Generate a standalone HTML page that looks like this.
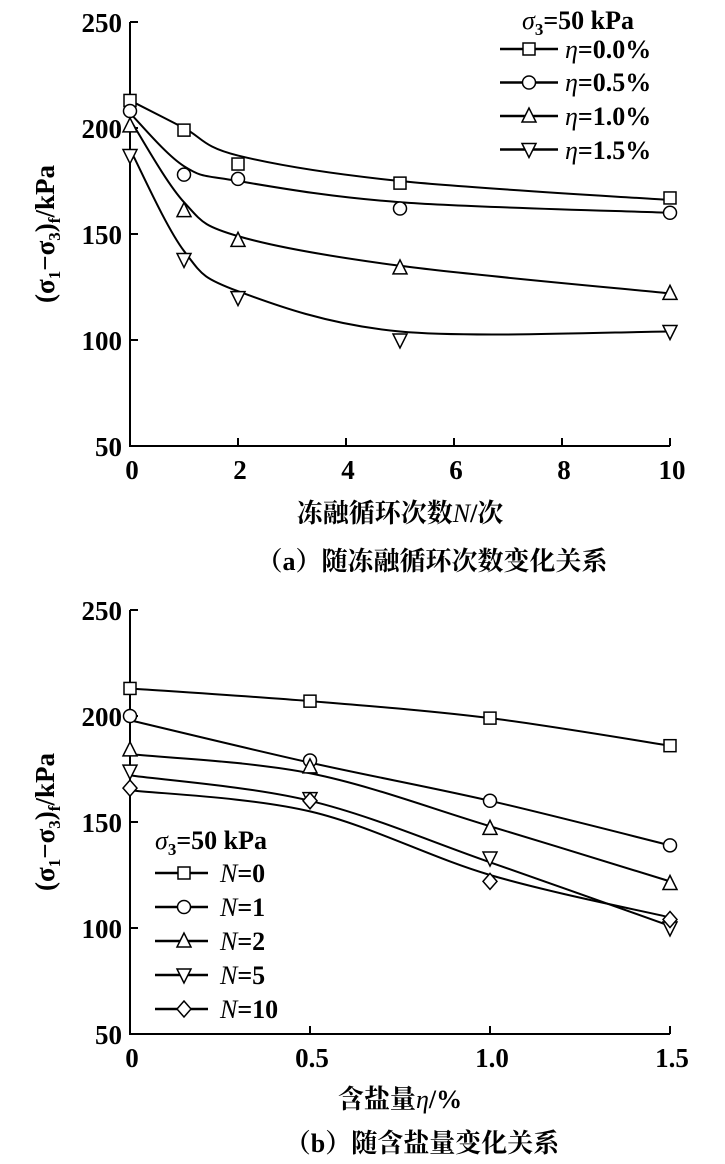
<!DOCTYPE html>
<html><head><meta charset="utf-8"><style>
body{margin:0;background:#fff}
svg{display:block}
text{font-family:"Liberation Serif","Noto Serif CJK SC",serif;fill:#000}
.t{font-size:27px;font-weight:bold}
.l{font-size:26px;font-weight:bold}
.cj{font-family:"Liberation Serif","Noto Serif CJK SC",serif;font-size:26px;font-weight:bold}
</style></head><body>
<svg id="s" width="725" height="1164" viewBox="0 0 725 1164" xmlns="http://www.w3.org/2000/svg">
<g stroke="#000" stroke-width="2" fill="none">
<path d="M130,22V446H670"/>
<path d="M130,22h8M130,128h8M130,234h8M130,340h8M238,446v-8M346,446v-8M454,446v-8M562,446v-8M670,446v-8"/>
<path d="M130,610V1034H670"/>
<path d="M130,610h8M130,716h8M130,822h8M130,928h8M310,1034v-8M490,1034v-8M670,1034v-8"/>
</g>
<g class="t" text-anchor="end">
<text x="122" y="32">250</text><text x="122" y="138">200</text><text x="122" y="244">150</text><text x="122" y="350">100</text><text x="122" y="456">50</text>
<text x="122" y="620">250</text><text x="122" y="726">200</text><text x="122" y="832">150</text><text x="122" y="938">100</text><text x="122" y="1044">50</text>
</g>
<g class="t" text-anchor="middle">
<text x="132" y="479">0</text><text x="240" y="479">2</text><text x="348" y="479">4</text><text x="456" y="479">6</text><text x="564" y="479">8</text><text x="672" y="479">10</text>
<text x="132" y="1067">0</text><text x="312" y="1067">0.5</text><text x="492" y="1067">1.0</text><text x="672" y="1067">1.5</text>
</g>
<text class="cj" x="400" y="522" text-anchor="middle">冻融循环次数<tspan font-style="italic" font-weight="normal">N</tspan>/次</text>
<text class="cj" x="432" y="570" text-anchor="middle">（a）随冻融循环次数变化关系</text>
<text class="cj" x="400" y="1108" text-anchor="middle">含盐量<tspan font-style="italic" font-weight="normal">η</tspan>/%</text>
<text class="cj" x="422" y="1152" text-anchor="middle">（b）随含盐量变化关系</text>
<text class="t" transform="translate(54,234) rotate(-90)" text-anchor="middle">(σ<tspan font-size="17" dy="6">1</tspan><tspan dy="-6">−σ</tspan><tspan font-size="17" dy="6">3</tspan><tspan dy="-6">)</tspan><tspan font-size="17" dy="6">f</tspan><tspan dy="-6">/kPa</tspan></text>
<text class="t" transform="translate(54,822) rotate(-90)" text-anchor="middle">(σ<tspan font-size="17" dy="6">1</tspan><tspan dy="-6">−σ</tspan><tspan font-size="17" dy="6">3</tspan><tspan dy="-6">)</tspan><tspan font-size="17" dy="6">f</tspan><tspan dy="-6">/kPa</tspan></text>
<text class="l" x="522" y="29"><tspan font-style="italic" font-weight="normal">σ</tspan><tspan font-size="17" dy="6">3</tspan><tspan dy="-6">=50 kPa</tspan></text>
<g class="l"><text x="565" y="58"><tspan font-style="italic" font-weight="normal">η</tspan>=0.0%</text>
<text x="565" y="91"><tspan font-style="italic" font-weight="normal">η</tspan>=0.5%</text>
<text x="565" y="125"><tspan font-style="italic" font-weight="normal">η</tspan>=1.0%</text>
<text x="565" y="159"><tspan font-style="italic" font-weight="normal">η</tspan>=1.5%</text></g>
<text class="l" x="155" y="849"><tspan font-style="italic" font-weight="normal">σ</tspan><tspan font-size="17" dy="6">3</tspan><tspan dy="-6">=50 kPa</tspan></text>
<g class="l"><text x="220" y="882"><tspan font-style="italic" font-weight="normal">N</tspan>=0</text>
<text x="220" y="916"><tspan font-style="italic" font-weight="normal">N</tspan>=1</text>
<text x="220" y="950"><tspan font-style="italic" font-weight="normal">N</tspan>=2</text>
<text x="220" y="984"><tspan font-style="italic" font-weight="normal">N</tspan>=5</text>
<text x="220" y="1018"><tspan font-style="italic" font-weight="normal">N</tspan>=10</text></g>
<g id="g"></g>
</svg>
<script>
var g=document.getElementById('g'),NS='http://www.w3.org/2000/svg';
function el(t,a){var e=document.createElementNS(NS,t);for(var k in a)e.setAttribute(k,a[k]);g.appendChild(e);return e;}
function cr(p){var d='M'+p[0][0]+','+p[0][1];for(var i=0;i<p.length-1;i++){var a=p[i-1]||p[i],b=p[i],c=p[i+1],e=p[i+2]||c;
d+='C'+(b[0]+(c[0]-a[0])/6)+','+(b[1]+(c[1]-a[1])/6)+' '+(c[0]-(e[0]-b[0])/6)+','+(c[1]-(e[1]-b[1])/6)+' '+c[0]+','+c[1];}return d;}
function mk(t,x,y){var s={fill:'#fff',stroke:'#000','stroke-width':1.5};
if(t==0){s.x=x-6;s.y=y-6;s.width=12;s.height=12;el('rect',s);}
else if(t==1){s.cx=x;s.cy=y;s.r=6.5;el('circle',s);}
else if(t==2){s.points=(x)+','+(y-8)+' '+(x-7)+','+(y+6)+' '+(x+7)+','+(y+6);el('polygon',s);}
else if(t==3){s.points=(x)+','+(y+8)+' '+(x-7)+','+(y-6)+' '+(x+7)+','+(y-6);el('polygon',s);}
else{s.points=x+','+(y-8)+' '+(x+7)+','+y+' '+x+','+(y+8)+' '+(x-7)+','+y;el('polygon',s);}}
var Ya=function(v){return 446-(v-50)*2.12},Yb=function(v){return 1034-(v-50)*2.12};
var xa=[0,1,2,5,10].map(function(v){return 130+54*v}),xb=[0,.5,1,1.5].map(function(v){return 130+360*v});
var A=[[[213,199,183,174,167],[213,200,187,175,166]],[[208,178,176,162,160],[207,182,175,165,160]],[[201,161,147,134,122],[204,165,149,135,122]],[[187,138,120,100,104],[190,142,123,104,104]]];
var B=[[[213,207,199,186],[213,207,199,186]],[[200,179,160,139],[198,178,160,139]],[[184,176,147,121],[182,173,148,122]],[[174,161,133,100],[172,160,131,101]],[[166,160,122,104],[165,155,125,105]]];
A.forEach(function(s,k){el('path',{d:cr(s[1].map(function(v,i){return[xa[i],Ya(v)]})),fill:'none',stroke:'#000','stroke-width':2});
s[0].forEach(function(v,i){mk(k,xa[i],Ya(v))});
var ly=49+k*33.5;el('path',{d:'M500,'+ly+'H558',stroke:'#000','stroke-width':2.5});mk(k,529,ly);});
B.forEach(function(s,k){el('path',{d:cr(s[1].map(function(v,i){return[xb[i],Yb(v)]})),fill:'none',stroke:'#000','stroke-width':2});
s[0].forEach(function(v,i){mk(k,xb[i],Yb(v))});
var ly=873+k*34;el('path',{d:'M155,'+ly+'H208',stroke:'#000','stroke-width':2.5});mk(k,184,ly);});
</script>
</body></html>
